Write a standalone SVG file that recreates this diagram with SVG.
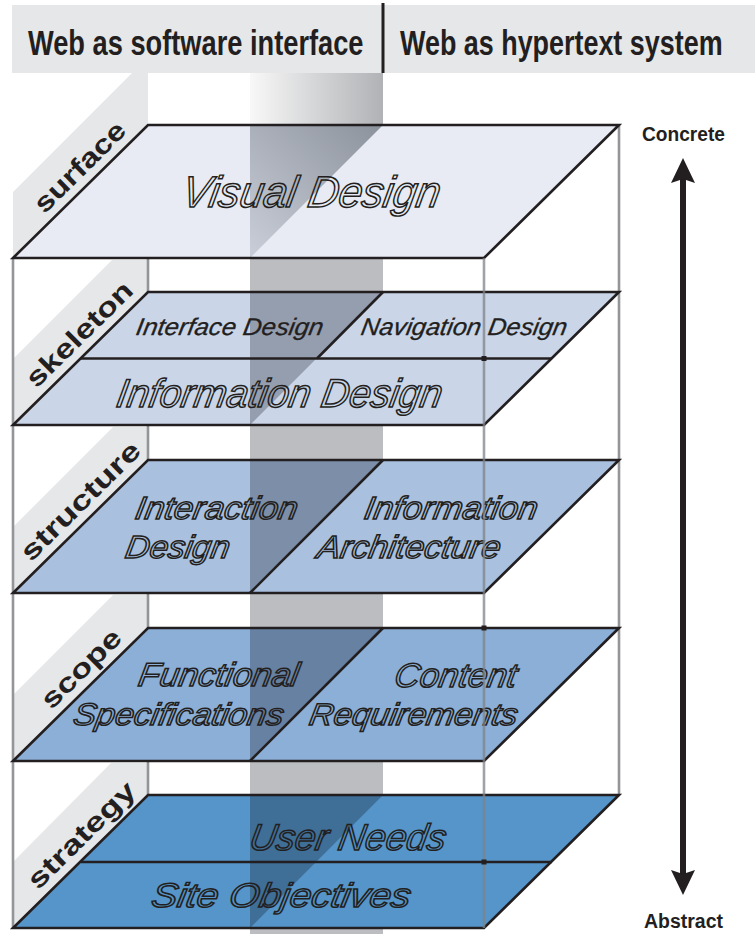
<svg xmlns="http://www.w3.org/2000/svg" width="755" height="934" viewBox="0 0 755 934">
<style>
.hdr{font-family:"Liberation Sans",Arial,sans-serif;font-weight:bold;font-size:36px;fill:#231f20}
.side{font-family:"Liberation Sans",Arial,sans-serif;font-weight:bold;font-size:27px;fill:#231f20}
.lbl{font-family:"Liberation Sans",Arial,sans-serif;font-style:italic;fill:none;stroke:#231f20;stroke-width:1.5}
.lbls{font-family:"Liberation Sans",Arial,sans-serif;font-style:italic;fill:#231f20;stroke:#231f20;stroke-width:0.3}
.end{font-family:"Liberation Sans",Arial,sans-serif;font-weight:bold;font-size:20px;fill:#231f20}
.tab{fill:#e6e7e8}
.edge{fill:none;stroke:#231f20;stroke-width:2.6;stroke-linejoin:miter}
.ln{stroke:#231f20;stroke-width:2.6}
.wire{stroke:#939598;stroke-width:2.6}
.band{fill:#bcbdc0}
</style>
<defs>
<linearGradient id="gTop" x1="0" y1="0" x2="1" y2="0">
<stop offset="0" stop-color="#f8f8f8"/><stop offset="1" stop-color="#b0b2b5"/>
</linearGradient>
<linearGradient id="gSurf" x1="0" y1="1" x2="1" y2="0">
<stop offset="0" stop-color="#c9ced8"/><stop offset="1" stop-color="#8c929b"/>
</linearGradient>
</defs>

<g id="header">
<rect x="12" y="5" width="743" height="68" fill="#e6e7e8"/>
<line x1="383" y1="3" x2="383" y2="73" stroke="#231f20" stroke-width="3"/>
<text class="hdr" transform="translate(28,55) scale(0.72,1)" textLength="466" lengthAdjust="spacingAndGlyphs">Web as software interface</text>
<text class="hdr" transform="translate(400,55) scale(0.72,1)" textLength="448" lengthAdjust="spacingAndGlyphs">Web as hypertext system</text>
</g>

<g id="frame">
<rect x="250" y="73" width="133" height="52" fill="url(#gTop)"/>
<rect class="band" x="250" y="258" width="133" height="676"/>
<polygon class="tab" points="132,73 148,73 148,125 13,258 13,192"/>
<polygon class="tab" points="112,260 148,260 148,292 13,425 13,359"/>
<polygon class="tab" points="113,427 148,427 148,460 13,593 13,527"/>
<polygon class="tab" points="113,595 148,595 148,628 13,761 13,695"/>
<polygon class="tab" points="111,763 148,763 148,795 13,928 13,862"/>
<line class="wire" x1="148" y1="258" x2="148" y2="795"/>
<line class="wire" x1="619" y1="125" x2="619" y2="795"/>
<line class="wire" x1="13" y1="258" x2="13" y2="928"/>
</g>

<g id="surface">
<polygon points="148,125 619,125 484,258 13,258" fill="#e8ebf3"/>
<polygon points="250,125 383,125 250,258" fill="url(#gSurf)"/>
<polygon class="edge" points="148,125 619,125 484,258 13,258"/>
<text class="lbl" font-size="44" transform="translate(180,207) skewX(-10)" textLength="258" lengthAdjust="spacingAndGlyphs">Visual Design</text>
<text class="side" transform="translate(44.5,214.4) rotate(-44.6)" textLength="117" lengthAdjust="spacingAndGlyphs">surface</text>
</g>

<g id="skeleton">
<polygon points="148,292 619,292 484,425 13,425" fill="#cad6e8"/>
<polygon points="250,292 383,292 250,425" fill="#959eaf"/>
<polygon class="edge" points="148,292 619,292 484,425 13,425"/>
<line class="ln" x1="81" y1="358.5" x2="552" y2="358.5"/>
<line class="ln" x1="383" y1="292" x2="317" y2="358.5"/>
<text class="lbls" font-size="24" transform="translate(135,335) skewX(-10)" textLength="187" lengthAdjust="spacingAndGlyphs">Interface Design</text>
<text class="lbls" font-size="24" transform="translate(360,335) skewX(-10)" textLength="206" lengthAdjust="spacingAndGlyphs">Navigation Design</text>
<text class="lbl" font-size="40" transform="translate(115,407) skewX(-10)" textLength="325" lengthAdjust="spacingAndGlyphs">Information Design</text>
<text class="side" transform="translate(36.6,389.1) rotate(-44.6)" textLength="138" lengthAdjust="spacingAndGlyphs">skeleton</text>
</g>

<g id="structure">
<polygon points="148,460 619,460 484,593 13,593" fill="#a9c1df"/>
<polygon points="250,460 383,460 250,593" fill="#7d8fa8"/>
<polygon class="edge" points="148,460 619,460 484,593 13,593"/>
<line class="ln" x1="383" y1="460" x2="250" y2="593"/>
<text class="lbl" font-size="32" transform="translate(134,519) skewX(-10)" textLength="162" lengthAdjust="spacingAndGlyphs">Interaction</text>
<text class="lbl" font-size="32" transform="translate(124,558) skewX(-10)" textLength="104" lengthAdjust="spacingAndGlyphs">Design</text>
<text class="lbl" font-size="32" transform="translate(363,519) skewX(-10)" textLength="173" lengthAdjust="spacingAndGlyphs">Information</text>
<text class="lbl" font-size="32" transform="translate(316,558) skewX(-10)" textLength="183" lengthAdjust="spacingAndGlyphs">Architecture</text>
<text class="side" transform="translate(30.9,562.7) rotate(-44.6)" textLength="157" lengthAdjust="spacingAndGlyphs">structure</text>
</g>

<g id="scope">
<polygon points="148,628 619,628 484,761 13,761" fill="#8cafd7"/>
<polygon points="250,628 383,628 250,761" fill="#6781a2"/>
<polygon class="edge" points="148,628 619,628 484,761 13,761"/>
<line class="ln" x1="383" y1="628" x2="250" y2="761"/>
<text class="lbl" font-size="33" transform="translate(137,686) skewX(-10)" textLength="160" lengthAdjust="spacingAndGlyphs">Functional</text>
<text class="lbl" font-size="31" transform="translate(72,725) skewX(-10)" textLength="210" lengthAdjust="spacingAndGlyphs">Specifications</text>
<text class="lbl" font-size="34" transform="translate(393,687) skewX(-10)" textLength="122" lengthAdjust="spacingAndGlyphs">Content</text>
<text class="lbl" font-size="31" transform="translate(308,725) skewX(-10)" textLength="208" lengthAdjust="spacingAndGlyphs">Requirements</text>
<text class="side" transform="translate(51.6,710.4) rotate(-44.6)" textLength="101" lengthAdjust="spacingAndGlyphs">scope</text>
</g>

<g id="strategy">
<polygon points="148,795 619,795 484,928 13,928" fill="#5595c9"/>
<polygon points="250,795 383,795 250,928" fill="#3f6e97"/>
<polygon class="edge" points="148,795 619,795 484,928 13,928"/>
<line class="ln" x1="81" y1="862" x2="552" y2="862"/>
<text class="lbl" font-size="37" transform="translate(248,850) skewX(-10)" textLength="196" lengthAdjust="spacingAndGlyphs">User Needs</text>
<text class="lbl" font-size="34" transform="translate(150,907) skewX(-10)" textLength="259" lengthAdjust="spacingAndGlyphs">Site Objectives</text>
<text class="side" transform="translate(38,890.7) rotate(-44.6)" textLength="140" lengthAdjust="spacingAndGlyphs">strategy</text>
</g>

<g id="frontwire">
<line x1="484" y1="258" x2="484" y2="928" stroke="#7f8388" stroke-width="2.6" stroke-opacity="0.75"/>
<rect x="481.5" y="356" width="5" height="5" fill="#231f20"/>
<rect x="481.5" y="625.5" width="5" height="5" fill="#231f20"/>
<rect x="481.5" y="859.5" width="5" height="5" fill="#231f20"/>
</g>

<g id="connectors">
<line x1="683" y1="176" x2="683" y2="877" stroke="#231f20" stroke-width="6"/>
<path d="M683,158 L695,183 L683,179 L671,183 Z" fill="#231f20"/>
<path d="M683,895 L695,870 L683,874 L671,870 Z" fill="#231f20"/>
</g>
<g id="concrete"><text class="end" x="642" y="141" textLength="83" lengthAdjust="spacingAndGlyphs">Concrete</text></g>
<g id="abstract"><text class="end" x="644" y="928" textLength="79" lengthAdjust="spacingAndGlyphs">Abstract</text></g>
</svg>
